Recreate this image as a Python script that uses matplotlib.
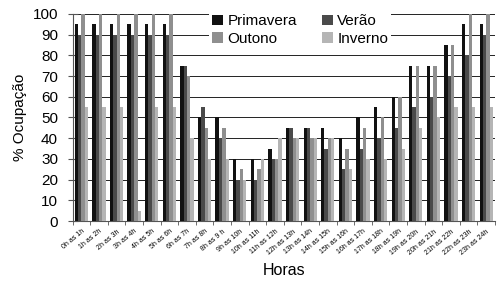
import numpy as np
import matplotlib.pyplot as plt

plt.rcParams['font.family'] = ['Liberation Sans', 'DejaVu Sans']

horas = ['0h as 1h', '1h as 2h', '2h as 3h', '3h as 4h', '4h as 5h', '5h as 6h',
         '6h as 7h', '7h as 8h', '8h as 9 h', '9h as 10h', '10h as 11h', '11h as 12h',
         '12h as 13h', '13h as 14h', '14h as 15h', '15h as 16h', '16h as 17h', '17h as 18h',
         '18h as 19h', '19h as 20h', '20h as 21h', '21h as 22h', '22h as 23h', '23h as 24h']

primavera = [95, 95, 95, 95, 95, 95, 75, 50, 50, 30, 30, 35,
             45, 45, 45, 40, 50, 55, 60, 75, 75, 85, 95, 95]
verao = [90, 90, 90, 90, 90, 90, 75, 55, 40, 20, 20, 30,
         45, 45, 35, 25, 35, 40, 45, 55, 60, 70, 80, 90]
outono = [100, 100, 100, 100, 100, 100, 70, 45, 45, 25, 25, 30,
          40, 40, 40, 35, 45, 50, 60, 75, 75, 85, 100, 100]
inverno = [55, 55, 55, 5, 55, 55, 40, 30, 30, 20, 30, 40,
           40, 40, 40, 25, 30, 30, 35, 45, 50, 55, 55, 55]

series = [('Primavera', primavera, '#111111'),
          ('Verão', verao, '#4a4a4a'),
          ('Outono', outono, '#8f8f8f'),
          ('Inverno', inverno, '#b5b5b5')]

fig = plt.figure(figsize=(4.97, 2.89), dpi=100)
ax = fig.add_axes([0.146, 0.235, 0.85, 0.717])

x = np.arange(len(horas))
w = 0.19
barras = []
for i, (nome, vals, cor) in enumerate(series):
    b = ax.bar(x + (i - 1.5) * w, vals, width=w, color=cor, label=nome, zorder=3)
    barras.append(b)

ax.set_ylim(0, 100)
ax.set_xlim(-0.5, len(horas) - 0.5)
ax.set_yticks(np.arange(0, 101, 10))
ax.yaxis.grid(True, color='#222222', linewidth=0.7, zorder=0)
ax.set_axisbelow(True)

for s in ['top', 'right']:
    ax.spines[s].set_visible(False)
ax.spines['left'].set_color('#555555')
ax.spines['bottom'].set_color('#555555')

ax.set_xticks(x)
ax.set_xticklabels(horas, rotation=40, ha='right', rotation_mode='anchor', fontsize=5)
ax.set_xticks(np.arange(-0.5, len(horas), 1), minor=True)
ax.tick_params(axis='x', which='major', length=0, pad=5)
ax.tick_params(axis='x', which='minor', length=3, direction='out', color='#555555')
ax.tick_params(axis='y', labelsize=11, direction='inout', length=7, color='#555555', pad=7)

ax.set_ylabel('% Ocupação', fontsize=11, labelpad=4)
ax.set_xlabel('Horas', fontsize=11.5, labelpad=5)

# legenda em linhas: Primavera/Verão em cima, Outono/Inverno em baixo
ordem = [0, 2, 1, 3]
leg = ax.legend([barras[i] for i in ordem], [series[i][0] for i in ordem],
                ncol=2, loc='upper left', bbox_to_anchor=(0.305, 1.05), fontsize=11,
                frameon=True, facecolor='white', edgecolor='none', framealpha=1,
                handlelength=0.7, handleheight=0.7, handletextpad=0.3,
                columnspacing=1.65, labelspacing=0.25, borderpad=0.2, fancybox=False)
leg.set_zorder(5)

fig.savefig('out.png', dpi=100)
